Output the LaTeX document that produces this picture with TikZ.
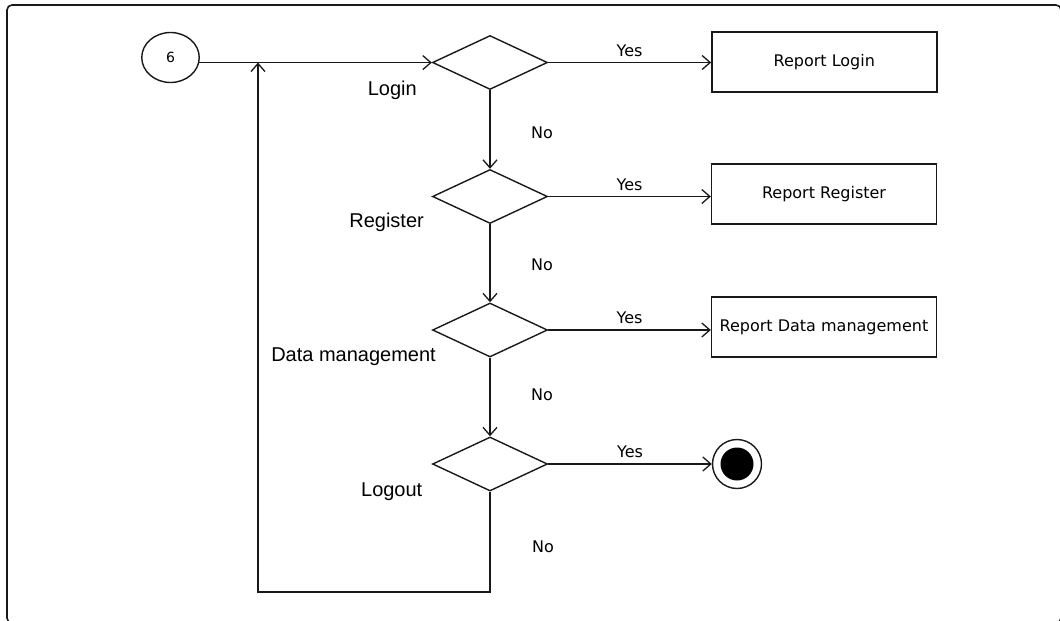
\documentclass[tikz,border=0pt]{standalone}
\usepackage{fontspec}
\setmainfont{Liberation Sans}
\newfontfamily\labelfont{DejaVu Sans}
\usetikzlibrary{shapes.geometric,arrows.meta,calc}

\begin{document}
\begin{tikzpicture}[x=1pt,y=-1pt,
  line/.style={draw=black!90, line width=1.4pt},
  flow/.style={line, -{Straight Barb[length=8pt,width=14pt,line width=1.3pt]}},
  decision/.style={diamond, line, minimum width=115pt, minimum height=54pt, inner sep=0pt},
  report/.style={rectangle, line, minimum width=225pt, minimum height=60pt, inner sep=1pt,
                 font=\labelfont\fontsize{16}{19}\selectfont},
  caption/.style={font=\fontsize{20}{23}\selectfont, anchor=base east, inner sep=0pt},
  branch/.style={font=\labelfont\fontsize{16}{19}\selectfont, anchor=base, inner sep=0pt},
]
\useasboundingbox (0,0) rectangle (1060,621);

% outer frame
\begin{scope}
  \clip (0,0) rectangle (1060,621);
  \draw[black!90, line width=1.6pt, rounded corners=5pt] (7,5) rectangle (1061,623);
\end{scope}

% start connector
\node[ellipse, line, minimum width=57.5pt, minimum height=50pt, inner sep=0pt,
      font=\labelfont\fontsize{14}{16}\selectfont] (start) at (170.5,57.5) {6};

% decisions
\node[decision] (login)    at (490,62.5) {};
\node[decision] (register) at (490,196.5) {};
\node[decision] (data)     at (490,330) {};
\node[decision] (logout)   at (490,464) {};

\node[caption] (loginlbl)    at (417,95)    {Login};
\node[caption] (registerlbl) at (424,227)   {Register};
\node[caption] (datalbl)     at (436,361.5) {Data management};
\node[caption] (logoutlbl)   at (422.5,496.5) {Logout};

% reports
\node[report] (rlogin)    at (824.3,62) {Report Login};
\node[report] (rregister) at (824,194)  {Report Register};
\node[report] (rdata)     at (824,327)  {Report Data management};

% final state
\node[circle, line, minimum size=49pt, inner sep=0pt] (final) at (737,464) {};
\node[circle, fill=black, minimum size=33pt, inner sep=0pt] (finaldot) at (final) {};

% flow
\draw[flow] (start.-10) -- (start.-10 -| login.west);

\draw[flow] (login.east) -- (login.east -| rlogin.west)
  node[branch, pos=0.5, yshift=6.5pt] {Yes};
\draw[flow] (register.east) -- (register.east -| rregister.west)
  node[branch, pos=0.5, yshift=6.5pt] {Yes};
\draw[flow] (data.east) -- (data.east -| rdata.west)
  node[branch, pos=0.5, yshift=6.5pt] {Yes};
\draw[flow] (logout.east) -- (final.west)
  node[branch, pos=0.5, yshift=6.5pt] {Yes};

\draw[flow] (login.south) -- (register.north);
\draw[flow] (register.south) -- (data.north);
\draw[flow] (data.south) -- (logout.north);

\node[branch] (no1) at ($(login.south)+(52,48.5)$) {No};
\node[branch] (no2) at ($(register.south)+(52,46.5)$) {No};
\node[branch] (no3) at ($(data.south)+(52,42.5)$) {No};
\node[branch] (no4) at ($(logout.south)+(53,61)$) {No};

% loop back to the entry line
\coordinate (loopleft) at (258,592);
\draw[flow] (logout.south) |- (loopleft) -- (loopleft |- start.-10);
\end{tikzpicture}
\end{document}
